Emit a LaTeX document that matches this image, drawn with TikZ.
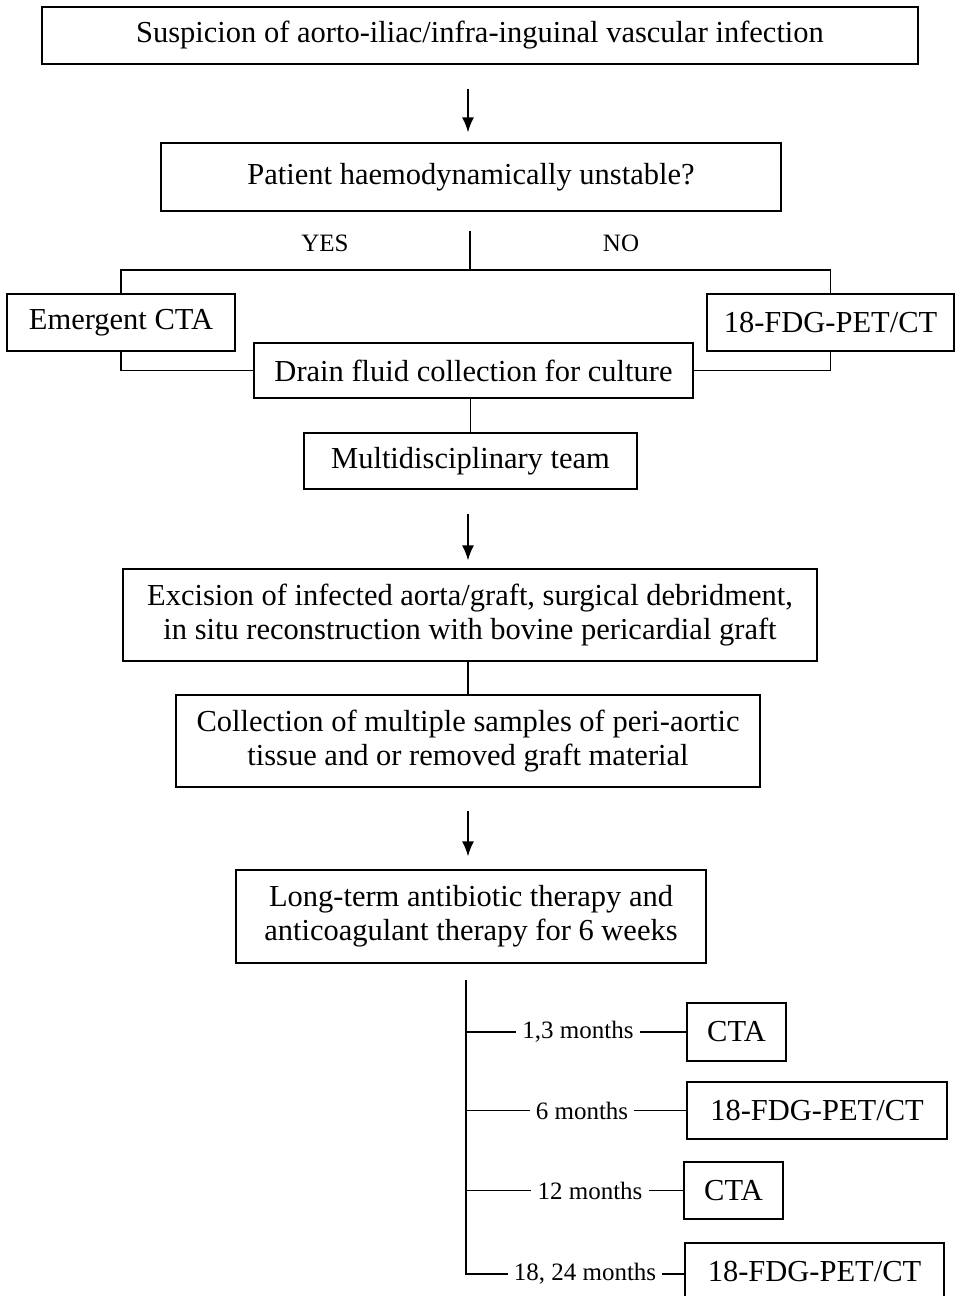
\documentclass[tikz,border=0pt]{standalone}
\usepackage{fontspec}
\setmainfont{Liberation Serif}
\usetikzlibrary{arrows.meta,calc}
\begin{document}
\begin{tikzpicture}[x=1pt,y=-1pt,
  box/.style={draw, line width=1.4pt, inner sep=0pt, align=center, font=\fontsize{30.5}{34}\selectfont},
  lbl/.style={inner sep=6pt, font=\fontsize{25}{28}\selectfont},
  ln/.style={line width=1.4pt},
  arr/.style={line width=1.4pt, -{Latex[length=15pt,width=12pt]}}]
\useasboundingbox (0,0) rectangle (955,1296);
\fill[white] (0,0) rectangle (955,1296);
% boxes
\node[box, minimum width=876, minimum height=57] (top) at (480,35.5) {\raisebox{-2pt}{Suspicion of aorto-iliac/infra-inguinal vascular infection}};
\node[box, minimum width=620, minimum height=68] (q) at (471,177) {\raisebox{-2pt}{Patient haemodynamically unstable?}};
\node[box, minimum width=228, minimum height=57] (ecta) at (121,322.5) {\raisebox{-3pt}{Emergent CTA}};
\node[box, minimum width=247, minimum height=57] (pet) at (830.5,322.5) {18-FDG-PET/CT};
\node[box, minimum width=439, minimum height=55] (drain) at (473.5,370.5) {Drain fluid collection for culture};
\node[box, minimum width=333, minimum height=56] (mdt) at (470.5,461) {\raisebox{-2pt}{Multidisciplinary team}};
\node[box, minimum width=694, minimum height=92] (exc) at (470,615) {Excision of infected aorta/graft, surgical debridment,\\in situ reconstruction with bovine pericardial graft};
\node[box, minimum width=584, minimum height=92] (coll) at (468,741) {Collection of multiple samples of peri-aortic\\tissue and or removed graft material};
\node[box, minimum width=470, minimum height=93] (lt) at (471,916.5) {Long-term antibiotic therapy and\\anticoagulant therapy for 6 weeks};
\node[box, minimum width=99, minimum height=58] (f1) at (736.5,1032) {CTA};
\node[box, minimum width=260, minimum height=57] (f2) at (817,1110.5) {18-FDG-PET/CT};
\node[box, minimum width=99, minimum height=57] (f3) at (733.5,1190.5) {CTA};
\node[box, minimum width=259, minimum height=57] (f4) at (814.5,1271.5) {18-FDG-PET/CT};
% labels
\node[lbl] (yes) at (325,243) {YES};
\node[lbl] (no) at (621,243) {NO};
\node[lbl] (m1) at (578,1032) {1,3 months};
\node[lbl] (m2) at (582,1110.5) {6 months};
\node[lbl] (m3) at (590,1190.5) {12 months};
\node[lbl] (m4) at (585,1274) {18, 24 months};
% top connectors
\draw[arr, shorten <=24pt, shorten >=10pt] (top.south -| 468,0) -- (q.north -| 468,0);
\coordinate (split) at (470,270);
\draw[ln, shorten <=19pt] (q.south -| split) -- (split);
\draw[ln] (ecta.north) |- (split) -| (pet.north);
\draw[ln] (ecta.south) |- (drain.west);
\draw[ln] (pet.south) |- (drain.east);
\draw[ln] (drain.south -| mdt.north) -- (mdt.north);
\draw[arr, shorten <=24pt, shorten >=8pt] (mdt.south -| 468,0) -- (exc.north -| 468,0);
\draw[ln] (exc.south -| 468,0) -- (coll.north -| 468,0);
\draw[arr, shorten <=23pt, shorten >=13pt] (coll.south -| 468,0) -- (lt.north -| 468,0);
% follow-up timeline
\coordinate (s0) at (466,980);
\draw[ln] (s0) |- (m4.west);
\draw[ln] (m1.west -| s0) -- (m1.west);
\draw[ln] (m2.west -| s0) -- (m2.west);
\draw[ln] (m3.west -| s0) -- (m3.west);
\draw[ln] (m1.east) -- (f1.west);
\draw[ln] (m2.east) -- (f2.west);
\draw[ln] (m3.east) -- (f3.west);
\draw[ln] (m4.east) -- (m4.east -| f4.west);
\end{tikzpicture}
\end{document}
